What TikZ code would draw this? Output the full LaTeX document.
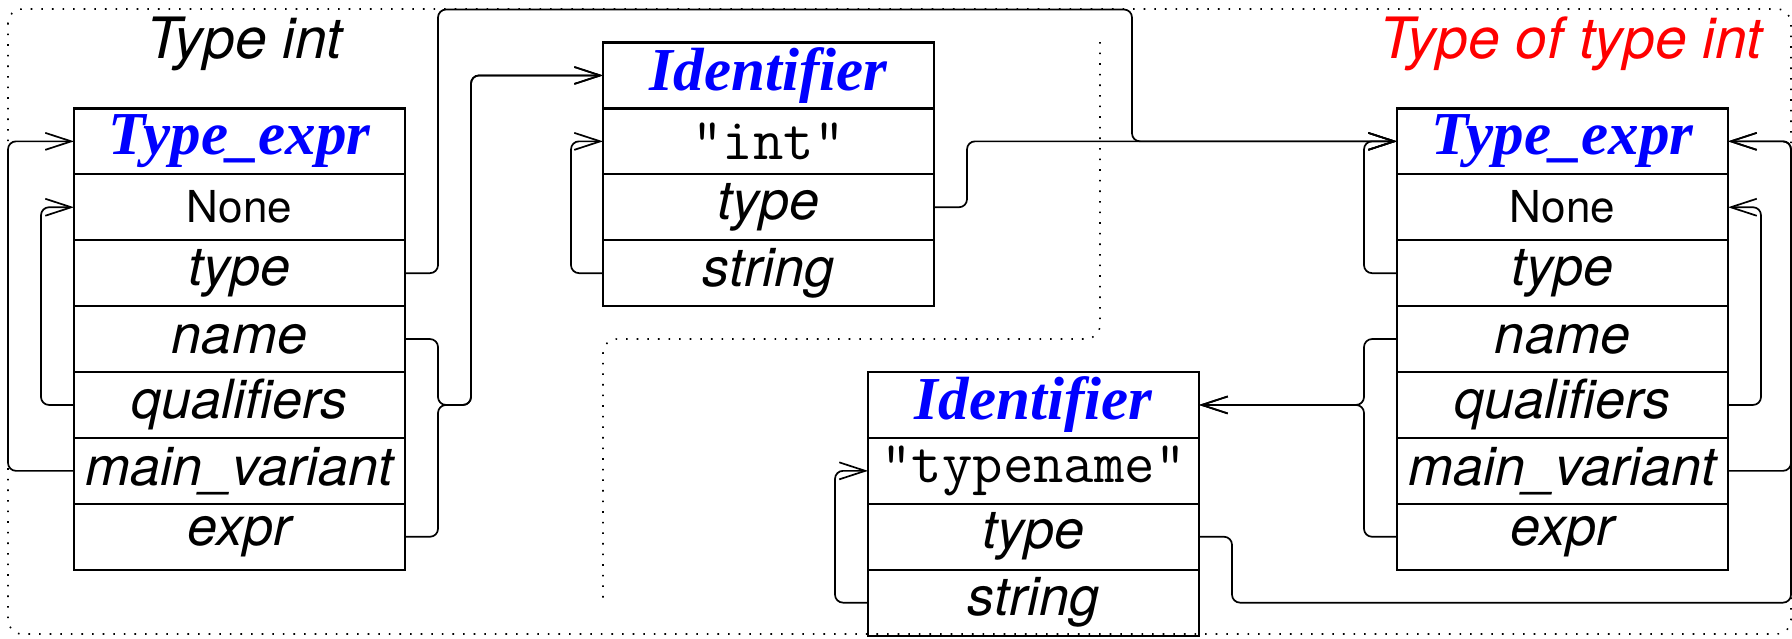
\documentclass[tikz,border=0pt]{standalone}
\usepackage{fontspec}
\setmainfont{TeX Gyre Heros}
\newfontfamily\hdrfont{Liberation Serif}
\usetikzlibrary{arrows.meta}
\begin{document}
\begin{tikzpicture}[x=1pt,y=-1pt,
  fld/.style={draw, line width=2.2pt, minimum width=331pt, minimum height=65.9pt, inner sep=0pt, outer sep=0pt, font=\fontsize{54}{60}\selectfont\itshape},
  nonefld/.style={fld, font=\fontsize{44}{50}\selectfont\upshape},
  strfld/.style={fld, font=\fontsize{59}{64}\selectfont\ttfamily\upshape},
  hdr/.style={fld, text=blue, font=\fontsize{61}{66}\selectfont\hdrfont\bfseries\itshape},
  conn/.style={line width=1.7pt, rounded corners=8pt},
  arr/.style={conn, -{Straight Barb[length=26pt,width=17pt]}},
  dotline/.style={line width=1.6pt, dash pattern=on 1.6pt off 9pt, rounded corners=14pt},
  ttl/.style={inner sep=0pt, font=\fontsize{57}{64}\selectfont\itshape}]
\useasboundingbox (0,0) rectangle (1792,638);

% outer and inner dotted regions
\draw[dotline] (8,9) rectangle (1791,634);
\draw[dotline] (1100,42) -- (1100,339) -- (603,339) -- (603,604);

% titles
\node[ttl, anchor=base west] (t1) at (146,58) {Type int};
\node[ttl, anchor=base east, text=red] (t2) at (1763,58) {Type of type int};

% left Type_expr
\node[hdr] (LT1) at (239.5,141.35) {Type\_expr};
\node[nonefld] (LT2) at (239.5,207.25) {None};
\node[fld] (LT3) at (239.5,273.15) {type};
\node[fld] (LT4) at (239.5,339.05) {name};
\node[fld] (LT5) at (239.5,404.95) {qualifiers};
\node[fld] (LT6) at (239.5,470.85) {main\_variant};
\node[fld] (LT7) at (239.5,536.75) {expr};

% top Identifier
\node[hdr] (TI1) at (768.5,75.45) {Identifier};
\node[strfld] (TI2) at (768.5,141.35) {"int"};
\node[fld] (TI3) at (768.5,207.25) {type};
\node[fld] (TI4) at (768.5,273.15) {string};

% right Type_expr
\node[hdr] (RT1) at (1562.5,141.35) {Type\_expr};
\node[nonefld] (RT2) at (1562.5,207.25) {None};
\node[fld] (RT3) at (1562.5,273.15) {type};
\node[fld] (RT4) at (1562.5,339.05) {name};
\node[fld] (RT5) at (1562.5,404.95) {qualifiers};
\node[fld] (RT6) at (1562.5,470.85) {main\_variant};
\node[fld] (RT7) at (1562.5,536.75) {expr};

% bottom Identifier
\node[hdr] (BI1) at (1033.5,404.95) {Identifier};
\node[strfld] (BI2) at (1033.5,470.85) {"typename"};
\node[fld] (BI3) at (1033.5,536.75) {type};
\node[fld] (BI4) at (1033.5,602.65) {string};

% connectors, left Type_expr
\draw[arr] (LT6.west) -- ++(-66,0) |- (LT1.west);
\draw[arr] (LT5.west) -- ++(-33,0) |- (LT2.west);
\draw[arr] (LT3.east) -- ++(33,0) |- (1132,9.5) |- (RT1.west);
\draw[arr] (LT4.east) -| (438,404.95) -- (471,404.95) |- (TI1.west);
\draw[arr] (LT7.east) -| (438,404.95) -- (471,404.95) |- (TI1.west);

% connectors, top Identifier
\draw[arr] (TI4.west) -- ++(-32,0) |- (TI2.west);
\draw[arr] (TI3.east) -- ++(33,0) |- (RT1.west);

% connectors, right Type_expr
\draw[arr] (RT3.west) -- ++(-33,0) |- (RT1.west);
\draw[arr] (RT4.west) -| (1364,404.95) -- (BI1.east);
\draw[arr] (RT7.west) -| (1364,404.95) -- (BI1.east);
\draw[arr] (RT5.east) -- ++(33,0) |- (RT2.east);
\draw[arr] (RT6.east) -- ++(63,0) |- (RT1.east);

% connectors, bottom Identifier
\draw[arr] (BI3.east) -- ++(33,0) |- (1791,602.65) |- (RT1.east);
\draw[arr] (BI4.west) -- ++(-33,0) |- (BI2.west);
\end{tikzpicture}
\end{document}
